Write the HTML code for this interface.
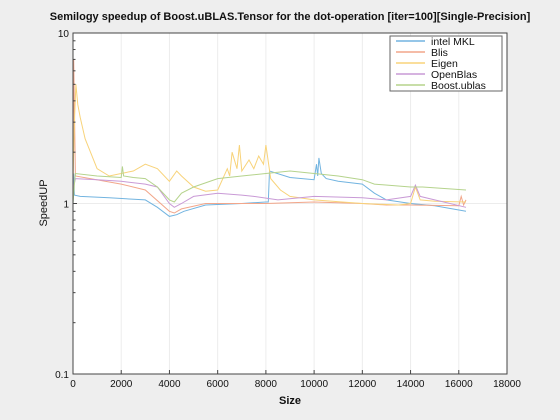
<!DOCTYPE html>
<html><head><meta charset="utf-8"><style>
body{margin:0;background:#eeeeee;font-family:"Liberation Sans",sans-serif;}
svg{display:block}
</style></head><body>
<svg id="chart" width="560" height="420">
<rect x="0" y="0" width="560" height="420" fill="#eeeeee"/>
<text x="290" y="20" text-anchor="middle" font-size="11" font-weight="bold" fill="#111">Semilogy speedup of Boost.uBLAS.Tensor for the dot-operation [iter=100][Single-Precision]</text>
<rect x="73" y="33" width="434" height="341" fill="#fff"/>
<g id="grid"></g><g id="series"></g>
<rect x="73" y="33" width="434" height="341" fill="none" stroke="#444" stroke-width="1"/>
<g id="ticks"></g>
<text x="290" y="404" text-anchor="middle" font-size="11" font-weight="bold" fill="#111">Size</text>
<text x="0" y="0" transform="translate(47,203) rotate(-90)" text-anchor="middle" font-size="11" fill="#111">SpeedUP</text>
<g id="legend"></g>
</svg>
<script>
const names=["intel MKL","Blis","Eigen","OpenBlas","Boost.ublas"];
const colors=["#72b4e0","#f2a68a","#f8d37a","#c99ad6","#b5d38c"];
const xTicks=[0,2000,4000,6000,8000,10000,12000,14000,16000,18000];
const yTicks=[0.1,1,10];
const mklX=[0,30,60,300,1500,3000,3500,4000,4300,4600,5500,7000,8000,8100,8150,9000,10000,10100,10150,10200,10300,10500,11000,12000,12500,13000,14000,15000,16300];
const mklY=[1.0,1.5,1.12,1.1,1.08,1.05,0.95,0.84,0.86,0.9,0.98,1.0,1.02,1.02,1.55,1.42,1.38,1.7,1.45,1.85,1.5,1.4,1.35,1.3,1.15,1.05,1.0,0.97,0.9];
const blisX=[0,30,100,2000,3000,4000,4200,4500,5500,8000,10000,12000,13000,14000,16000,16100,16200,16300];
const blisY=[1.0,7.0,1.45,1.3,1.2,0.9,0.88,0.93,1.0,1.0,1.02,1.0,0.98,0.98,0.97,1.1,0.98,1.05];
const eigX=[0,60,120,200,300,500,1000,1500,2000,2500,3000,3500,4000,4300,4500,5000,5500,6000,6400,6500,6600,6800,6900,7000,7300,7500,7700,7900,8000,8200,8600,9000,10000,12000,13500,14000,14200,14400,15000,16300];
const eigY=[1.4,3.0,5.0,3.8,3.2,2.4,1.6,1.45,1.5,1.55,1.7,1.6,1.35,1.55,1.45,1.25,1.18,1.2,1.6,1.45,2.0,1.6,2.2,1.55,1.8,1.6,1.9,1.7,2.2,1.4,1.2,1.1,1.05,1.0,0.98,1.0,1.25,1.05,1.03,1.02];
const obX=[0,100,1000,2000,3000,3500,4000,4200,4500,5000,6000,7000,7500,8500,10000,12000,13000,14000,14200,14400,15000,16300];
const obY=[1.2,1.4,1.38,1.35,1.3,1.25,1.0,0.95,1.0,1.1,1.15,1.12,1.1,1.05,1.1,1.08,1.05,1.1,1.28,1.1,1.05,0.95];
const bsX=[0,60,100,1000,2000,2050,2100,2500,3000,3500,4000,4200,4500,5000,6000,7000,8000,9000,10000,11000,12000,12500,14000,14500,16300];
const bsY=[1.0,1.3,1.5,1.45,1.42,1.65,1.45,1.42,1.4,1.25,1.05,1.02,1.15,1.25,1.4,1.45,1.5,1.55,1.5,1.45,1.38,1.3,1.25,1.25,1.2];
const allX=[mklX,blisX,eigX,obX,bsX];
const allY=[mklY,blisY,eigY,obY,bsY];
const L=73,R=507,T=33,B=374;
const sx=v=>L+(v-0)/(18000)*(R-L);
const sy=v=>B-(Math.log10(v)+1)/2*(B-T);
const NS="http://www.w3.org/2000/svg";
function mk(tag,attrs,parent){const e=document.createElementNS(NS,tag);for(const k in attrs)e.setAttribute(k,attrs[k]);parent.appendChild(e);return e;}
const grid=document.getElementById('grid'),ticks=document.getElementById('ticks'),ser=document.getElementById('series'),leg=document.getElementById('legend');
xTicks.forEach(t=>{
 const g=mk('line',{x1:sx(t),x2:sx(t),y1:T,y2:B,stroke:'#ececec','stroke-width':1},grid);
 
 
 const tk=mk('line',{x1:sx(t),x2:sx(t),y1:B,y2:B-4,stroke:'#444'},ticks);
 
 
 const tx=mk('text',{x:sx(t),y:B+13,'text-anchor':'middle','font-size':10,fill:'#111'},ticks);
 tx.textContent=t;
 
 
});
yTicks.forEach(t=>{
 const g=mk('line',{x1:L,x2:R,y1:sy(t),y2:sy(t),stroke:'#ececec'},grid);
 
 
 const tx=mk('text',{x:L-4,y:sy(t)+4,'text-anchor':'end','font-size':10,fill:'#111'},ticks);
 tx.textContent=t;
 
 
});
for(let d=0;d<2;d++){for(let m=1;m<=10;m++){const v=Math.pow(10,d-1)*m;
 const tk=mk('line',{x1:L,x2:L+(m===1||m===10?4:2.5),y1:sy(v),y2:sy(v),stroke:'#444'},ticks);
 
 }}
allX.forEach((xs,i)=>{
 const p=xs.map((x,j)=>(j?'L':'M')+sx(x).toFixed(1)+','+sy(allY[i][j]).toFixed(1)).join('');
 const e=mk('path',{d:p,fill:'none',stroke:colors[i],'stroke-width':1},ser);
 
 
});
const lb=mk('rect',{x:390,y:36,width:112,height:55,fill:'#fff',stroke:'#666'},leg);


names.forEach((n,i)=>{
 const y=41+i*11;
 const ln=mk('line',{x1:396,x2:425,y1:y,y2:y,stroke:colors[i],'stroke-width':1.5},leg);
 
 
 const tx=mk('text',{x:431,y:y+4,'font-size':10.5,fill:'#111'},leg);
 tx.textContent=n;
 
 
});
</script>
</body></html>
